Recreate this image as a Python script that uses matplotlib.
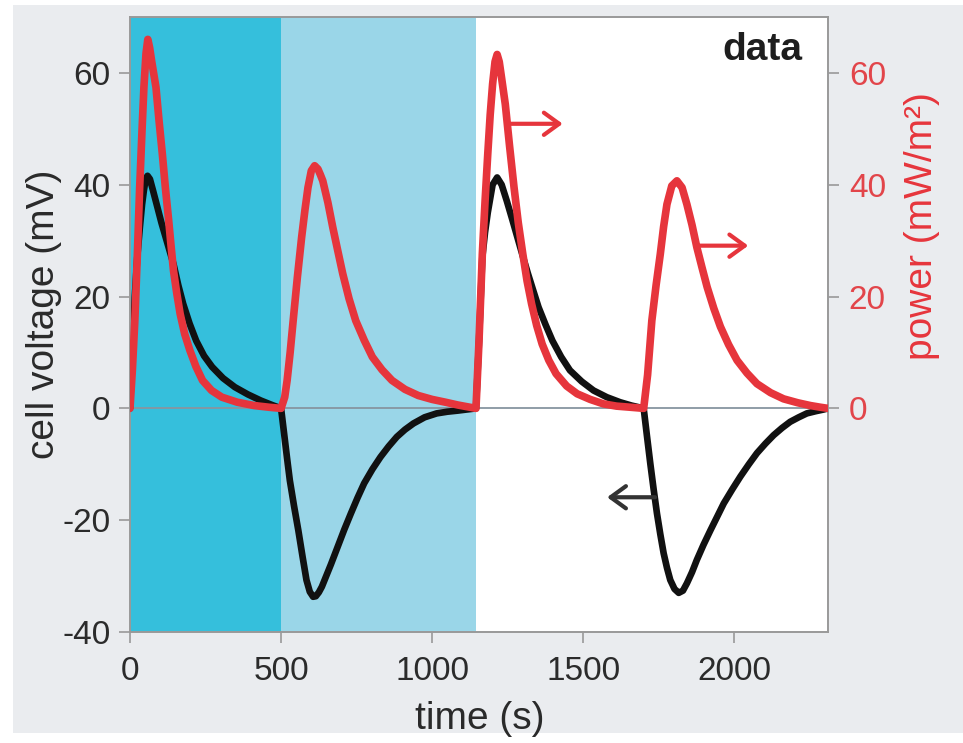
import matplotlib
matplotlib.use("Agg")
import matplotlib.pyplot as plt
from matplotlib.patches import Rectangle

plt.rcParams['font.family'] = ['Liberation Sans', 'DejaVu Sans']
plt.rcParams['axes.unicode_minus'] = False

# cell voltage trace (mV) vs time (s)
time_volt = [0, 8, 16, 24, 32, 40, 46, 52, 58, 66, 76, 91, 104, 118, 131, 144, 160, 176, 197, 219,
             245, 272, 308, 347, 390, 433, 470, 500,
             510, 520, 529, 543, 557, 571, 584, 595, 606, 615, 625, 635, 644, 665, 687, 709, 731,
             753, 775, 802, 829, 856, 883, 910, 938, 975, 1015, 1050, 1085, 1115, 1145,
             1155, 1166, 1175, 1184, 1200, 1215, 1230, 1247, 1265, 1282, 1300, 1317, 1335, 1352,
             1375, 1398, 1427, 1456, 1495, 1534, 1578, 1622, 1660, 1700,
             1711, 1722, 1733, 1744, 1755, 1766, 1777, 1788, 1802, 1816, 1830, 1843, 1860, 1876,
             1898, 1921, 1943, 1965, 1993, 2020, 2048, 2075, 2103, 2130, 2158, 2185, 2213, 2240,
             2270, 2296, 2310]
cell_voltage = [0, 10, 20, 27, 32, 36.5, 39, 41, 41.6, 41, 39, 35.9, 33.2, 30.6, 28.2, 25.8, 22, 18.7,
                15.2, 12.1, 9.4, 7.4, 5.4, 3.8, 2.5, 1.4, 0.6, 0,
                -4.5, -9, -12.9, -17.5, -21.8, -26.5, -30.7, -32.8, -33.7, -33.6, -32.9, -31.9, -30.7,
                -27.9, -24.8, -21.7, -18.8, -16, -13.4, -10.9, -8.7, -6.8, -5.1, -3.8, -2.7, -1.6,
                -0.9, -0.6, -0.4, -0.2, 0,
                12, 27, 31.5, 35, 40, 41.3, 40, 37.1, 33.8, 30.6, 27.2, 24.1, 21, 18.1, 15, 12.1,
                9.2, 6.8, 4.8, 3.2, 2.0, 1.1, 0.5, 0,
                -5, -9.9, -14.5, -18.8, -22.5, -25.9, -28.5, -30.7, -32.3, -33.0, -32.6, -31.3,
                -29.3, -27.1, -24.4, -21.8, -19.4, -17.0, -14.5, -12.2, -10, -8.0, -6.3, -4.8,
                -3.5, -2.4, -1.6, -0.9, -0.5, -0.2, 0]

# power density trace (mW/m2) vs time (s)
time_power = [0, 8, 16, 24, 32, 40, 46, 53, 59, 65, 72, 86, 96, 107, 117, 128, 136, 144, 155, 166,
              181, 198, 218, 240, 270, 304, 355, 411, 460, 500,
              512, 520, 530, 540, 554, 568, 579, 589, 600, 611, 622, 630, 638, 655, 671, 688, 704,
              725, 747, 775, 802, 834, 867, 910, 954, 1000, 1044, 1085, 1125, 1145,
              1155, 1166, 1175, 1184, 1192, 1200, 1208, 1215, 1222, 1230, 1242, 1256, 1271, 1285,
              1300, 1314, 1329, 1346, 1364, 1386, 1410, 1445, 1480, 1523, 1567, 1610, 1656, 1700,
              1713, 1727, 1741, 1755, 1766, 1777, 1793, 1810, 1827, 1843, 1860, 1876, 1893, 1910,
              1932, 1954, 1981, 2009, 2042, 2075, 2120, 2163, 2210, 2252, 2285, 2310]
power = [0, 7, 15.7, 27, 39.5, 50, 57.4, 63.5, 66, 64.5, 62, 57.4, 51.5, 45.5, 39.5, 33.6, 29, 24.6,
         20.5, 16.9, 13.3, 10.4, 7.5, 5.0, 3.2, 2.0, 1.1, 0.5, 0.2, 0,
         2, 5, 10, 15.7, 23.5, 30.6, 35.5, 39.5, 42.5, 43.4, 42.8, 41.8, 40.7, 36.8, 32.4, 28.1,
         24.1, 19.6, 15.7, 12.2, 9.2, 6.9, 5.0, 3.4, 2.3, 1.6, 1.1, 0.6, 0.2, 0,
         12, 27.6, 37, 45.5, 52.5, 58, 62, 63.3, 62, 59, 54.4, 47, 39.5, 33.2, 27.6, 22.8, 18.7,
         14.8, 11.5, 8.6, 6.2, 4.0, 2.6, 1.6, 0.8, 0.4, 0.2, 0,
         6, 15.7, 22, 27.6, 32.5, 36.5, 39.8, 40.7, 39.5, 36.5, 32.8, 28.8, 25.2, 21.7, 17.9,
         14.6, 11.4, 8.6, 6.3, 4.4, 2.8, 1.7, 1.0, 0.5, 0.2, 0]

# shaded phases (s)
phase_edges = [0, 500, 1145]

red = '#e6353c'
grey = '#999999'

fig = plt.figure(figsize=(9.63, 7.43), dpi=100)
fig.patches.append(Rectangle((13 / 963, 10 / 743), 950 / 963, 728 / 743,
                             transform=fig.transFigure, facecolor='#eaecef',
                             edgecolor='none', zorder=-10))

ax = fig.add_axes([130 / 963, 1 - 632 / 743, 698 / 963, 615 / 743])
ax.axvspan(phase_edges[0], phase_edges[1], color='#35bfdc', lw=0, zorder=0)
ax.axvspan(phase_edges[1], phase_edges[2], color='#9ad6e8', lw=0, zorder=0)
ax.axhline(0, color='#8795a0', lw=1.3, zorder=1)
ax.plot(time_volt, cell_voltage, color='#111111', lw=4.8,
        solid_joinstyle='round', solid_capstyle='round', zorder=2)

ax.set_xlim(0, 2310)
ax.set_ylim(-40, 70)
ax.set_xticks([0, 500, 1000, 1500, 2000])
ax.set_yticks([-40, -20, 0, 20, 40, 60])
ax.tick_params(axis='x', direction='out', length=8, width=1.2, color=grey,
               labelsize=24, labelcolor='#2b2b2b', pad=9)
ax.tick_params(axis='y', direction='out', length=8, width=1.2, color=grey,
               labelsize=24, labelcolor='#2b2b2b', pad=6)
ax.set_xlabel('time (s)', fontsize=28, color='#2a2a2a')
ax.set_ylabel('cell voltage (mV)', fontsize=28, color='#2a2a2a')
ax.xaxis.set_label_coords(0.501, -0.113)
ax.yaxis.set_label_coords(-0.097, 0.517)
ax.text(0.964, 0.976, 'data', transform=ax.transAxes, ha='right', va='top',
        fontsize=28, fontweight='bold', color='#1e1e1e')

ax2 = ax.twinx()
ax2.plot(time_power, power, color=red, lw=5.5,
         solid_joinstyle='round', solid_capstyle='round', zorder=3)
ax2.set_ylim(-40, 70)
ax2.set_yticks([0, 20, 40, 60])
ax2.tick_params(axis='y', direction='out', length=8, width=1.2, color=grey,
                labelsize=24, labelcolor='#e2454a', pad=7)
ax2.set_ylabel('power (mW/m²)', fontsize=28, color=red)
ax2.yaxis.set_label_coords(1.109, 0.660)

for a in (ax, ax2):
    for s in a.spines.values():
        s.set_color(grey)
        s.set_linewidth(1.2)

# arrows pointing at the axis each trace belongs to
arrow_style = '->,head_length=0.55,head_width=0.4'
ax2.annotate('', xy=(1432, 50.9), xytext=(1248, 50.9),
             arrowprops=dict(arrowstyle=arrow_style, color=red, lw=3,
                             mutation_scale=20, shrinkA=0, shrinkB=0))
ax2.annotate('', xy=(2046, 29.1), xytext=(1877, 29.1),
             arrowprops=dict(arrowstyle=arrow_style, color=red, lw=3,
                             mutation_scale=20, shrinkA=0, shrinkB=0))
ax2.annotate('', xy=(1579, -15.9), xytext=(1738, -15.9),
             arrowprops=dict(arrowstyle=arrow_style, color='#333333', lw=3,
                             mutation_scale=20, shrinkA=0, shrinkB=0))

fig.savefig('out.png', dpi=100)
